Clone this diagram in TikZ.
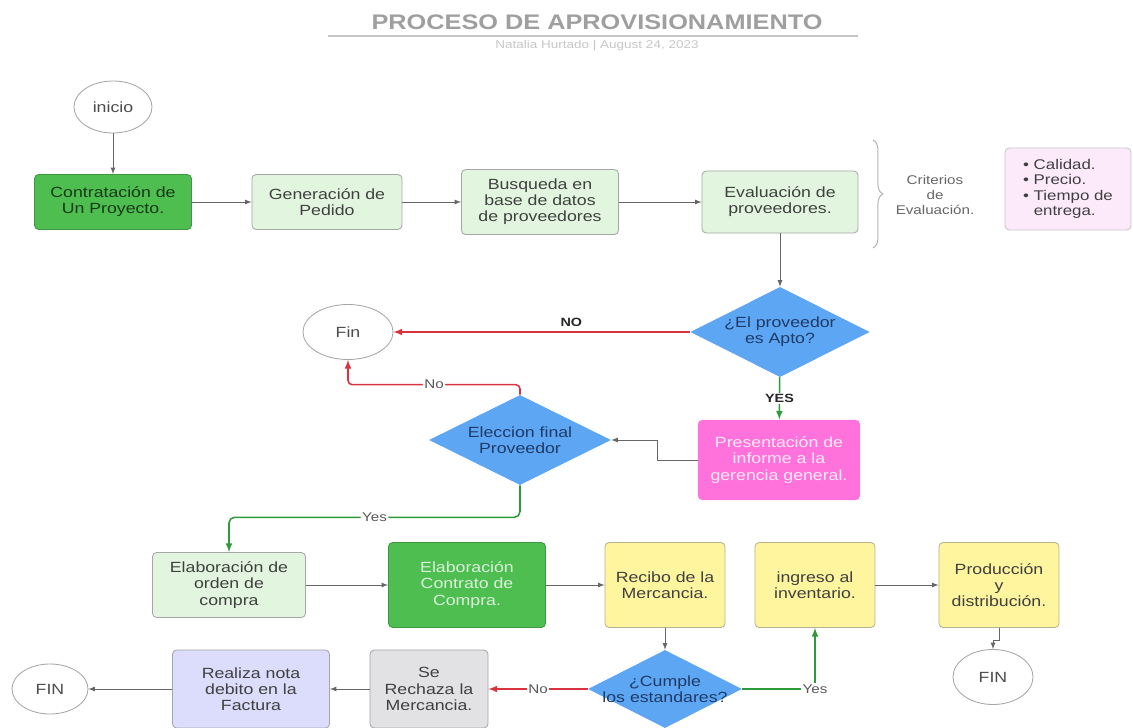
\documentclass[tikz,border=0pt]{standalone}
\usepackage{fontspec}
\setmainfont{Liberation Sans}[FakeStretch=1.2]
\usetikzlibrary{shapes.geometric,decorations.pathreplacing}

\definecolor{verdeosc}{HTML}{4DBE4F}
\definecolor{verdecl}{HTML}{E2F6DF}
\definecolor{rosa}{HTML}{FF72DB}
\definecolor{rosacl}{HTML}{FCEAFB}
\definecolor{azul}{HTML}{5DA6F4}
\definecolor{azultxt}{HTML}{1F3B66}
\definecolor{amarillo}{HTML}{FFF59E}
\definecolor{grisbox}{HTML}{E2E2E4}
\definecolor{lila}{HTML}{DCDCFC}
\definecolor{rojo}{HTML}{D9333F}
\definecolor{verdeflecha}{HTML}{2F9A3A}

\begin{document}
\begin{tikzpicture}[
    x=0.025cm, y=-0.025cm, % one unit = one pixel of the sketch
    font=\fontsize{10.5}{11.5}\selectfont,
    caja/.style={rectangle, rounded corners=3pt, draw=gray!70, line width=0.6pt, align=center, inner sep=2pt, text=black!75},
    claro/.style={caja, fill=verdecl},
    oscuro/.style={caja, fill=verdeosc, draw=verdeosc!80!black},
    amar/.style={caja, fill=amarillo, draw=amarillo!60!black!70, minimum width=3cm, minimum height=2.125cm},
    decision/.style={diamond, shape aspect=2, fill=azul, draw=none, align=center, text=azultxt, inner sep=1pt},
    term/.style={ellipse, draw=gray!70, fill=white, line width=0.6pt, text=black!70},
    flecha/.style={draw=black!60, line width=0.6pt, -latex},
    flechano/.style={draw=rojo, line width=1.1pt, -latex},
    flechasi/.style={draw=verdeflecha, line width=1.1pt, -latex},
    lbl/.style={fill=white, inner sep=1pt, font=\fontsize{9}{10}\selectfont, text=black!65}
]
\useasboundingbox (0,0) rectangle (1133,728);

% Title
\node[font=\fontsize{15}{16}\selectfont\bfseries, text=gray!75] (titulo) at (597,22) {PROCESO DE APROVISIONAMIENTO};
\draw[gray!45, line width=0.8pt] (328,36) -- (858,36);
\node[font=\fontsize{8}{9}\selectfont, text=gray!45] (autor) at (597,46) {Natalia Hurtado | August 24, 2023};

% First row
\node[term, minimum width=1.95cm, minimum height=1.3cm] (inicio) at (113,107) {inicio};
\node[oscuro, minimum width=3.925cm, minimum height=1.375cm, text=verdeosc!30!black] (contrat) at (113,202) {Contratación de\\Un Proyecto.};
\node[claro, minimum width=3.75cm, minimum height=1.375cm] (pedido) at (327,202) {Generación de\\Pedido};
\node[claro, minimum width=3.925cm, minimum height=1.625cm] (busqueda) at (540,202) {Busqueda en\\base de datos\\de proveedores};
\node[claro, minimum width=3.9cm, minimum height=1.55cm] (evaluacion) at (780,202) {Evaluación de\\proveedores.};
\node[align=center, text=black!60, font=\fontsize{9}{11}\selectfont] (criterios) at (935,195) {Criterios\\de\\Evaluación.};
\node[caja, fill=rosacl, draw=gray!45, align=left, minimum width=3.15cm, minimum height=2.05cm, font=\fontsize{10}{11}\selectfont] (lista) at (1068,189)
    {\textbullet\ Calidad.\\ \textbullet\ Precio.\\ \textbullet\ Tiempo de\\ \phantom{\textbullet\ }entrega.};
\draw[gray!60, line width=0.7pt, decorate, decoration={brace, amplitude=7pt}] (873,140) -- (873,248);

% Supplier check
\node[decision, minimum width=4.45cm, minimum height=2.25cm] (apto) at (780,332) {¿El proveedor\\es Apto?};
\node[term, minimum width=2.25cm, minimum height=1.375cm] (fin1) at (348,332) {Fin};
\node[caja, fill=rosa, draw=none, text=rosa!15, minimum width=4.05cm, minimum height=2cm] (informe) at (779,460) {Presentación de\\informe a la\\gerencia general.};
\node[decision, minimum width=4.55cm, minimum height=2.25cm] (eleccion) at (520,440) {Eleccion final\\Proveedor};

% Purchase row
\node[claro, minimum width=3.825cm, minimum height=1.625cm] (orden) at (229,585) {Elaboración de\\orden de\\compra};
\node[oscuro, text=verdeosc!20, minimum width=3.925cm, minimum height=2.125cm] (contrato) at (467,585) {Elaboración\\Contrato de\\Compra.};
\node[amar] (recibo) at (665,585) {Recibo de la\\Mercancia.};
\node[amar] (ingreso) at (815,585) {ingreso al\\inventario.};
\node[amar] (produccion) at (999,585) {Producción\\y\\distribución.};
\node[term, minimum width=2cm, minimum height=1.375cm] (fin3) at (993,677) {FIN};

% Quality check
\node[decision, minimum width=3.85cm, minimum height=1.95cm,
    label={[align=center, text=azultxt]center:{¿Cumple\\los estandares?}}] (cumple) at (665,689) {};
\node[caja, fill=grisbox, minimum width=2.95cm, minimum height=1.95cm] (rechaza) at (429,689) {Se\\Rechaza la\\Mercancia.};
\node[caja, fill=lila, minimum width=3.925cm, minimum height=1.95cm] (nota) at (251,689) {Realiza nota\\debito en la\\Factura};
\node[term, minimum width=1.9cm, minimum height=1.25cm] (fin2) at (50,689) {FIN};

% Connectors
\draw[flecha] (inicio) -- (contrat);
\draw[flecha] (contrat) -- (pedido);
\draw[flecha] (pedido) -- (busqueda);
\draw[flecha] (busqueda) -- (evaluacion);
\draw[flecha] (evaluacion) -- (apto);
\draw[flechano] (apto) -- node[pos=0.4, above, font=\fontsize{8.5}{9}\selectfont\bfseries, text=black!85] {NO} (fin1);
\draw[flechasi] (apto) -- node[lbl, font=\fontsize{8.5}{9}\selectfont\bfseries, text=black!85] {YES} (informe);
\draw[flecha] (informe.west) -- ++(-40,0) |- (eleccion.east);
\draw[flechano, rounded corners=3pt] (eleccion.north) -- ++(0,-10) -| node[lbl, pos=0.25] {No} (fin1.south);
\draw[flechasi, rounded corners=4pt] (eleccion.south) -- ++(0,32) -| node[lbl, pos=0.25] {Yes} (orden.north);
\draw[flecha] (orden) -- (contrato);
\draw[flecha] (contrato) -- (recibo);
\draw[flecha] (recibo) -- (cumple);
\draw[flechasi] (cumple.east) -| node[lbl, pos=0.5] {Yes} (ingreso.south);
\draw[flechano] (cumple) -- node[lbl] {No} (rechaza);
\draw[flecha] (rechaza) -- (nota);
\draw[flecha] (nota) -- (fin2);
\draw[flecha] (ingreso) -- (produccion);
\draw[flecha] (produccion.south) -- ++(0,12) -| (fin3.north);

\end{tikzpicture}
\end{document}
